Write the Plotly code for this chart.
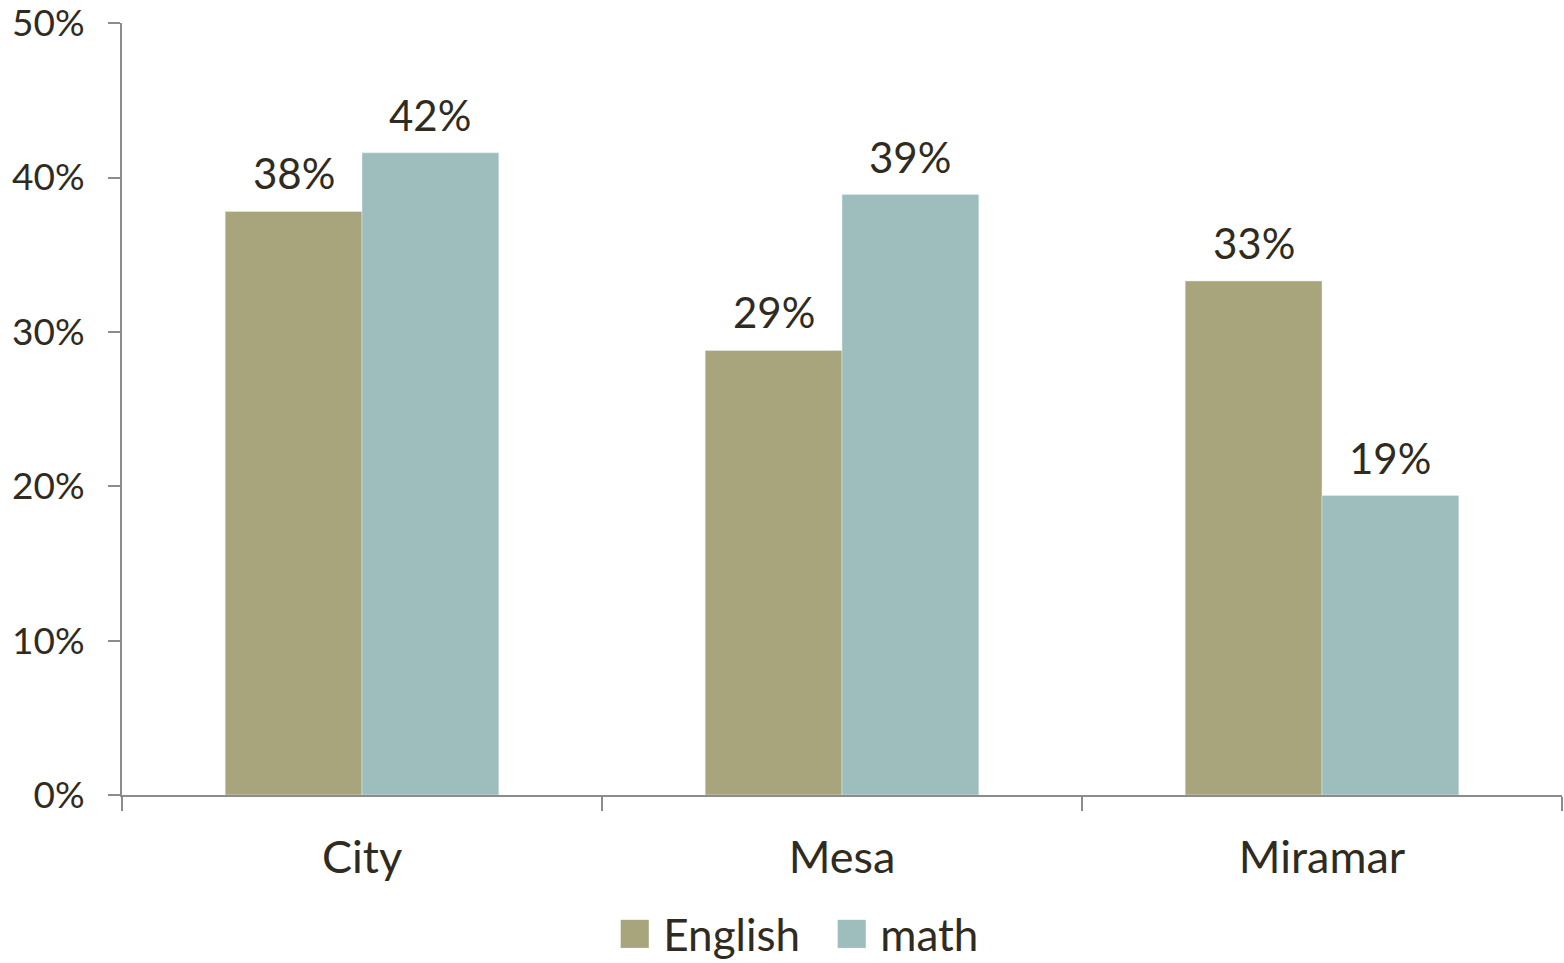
import plotly.graph_objects as go

categories = ["City", "Mesa", "Miramar"]
english = [0.378, 0.288, 0.333]
math_vals = [0.416, 0.389, 0.194]
y_ticks = [0, 0.1, 0.2, 0.3, 0.4, 0.5]
series_names = ["English", "math"]
series_colors = ["#A8A57C", "#9DBEBD"]

FONT = "Lato"
TXT = "#2F2B20"
AX = "#8C8C8C"

fig = go.Figure()
series = [english, math_vals]
for name, vals, col in zip(series_names, series, series_colors):
    fig.add_trace(go.Bar(name=name, x=categories, y=vals, marker_color=col,
                         showlegend=False))

# value labels anchored at data coordinates
offsets = [-68, 68]
for vals, dx in zip(series, offsets):
    for c, v in zip(categories, vals):
        fig.add_annotation(x=c, y=v, xref="x", yref="y", text=f"{round(v * 100)}%",
                           showarrow=False, xshift=dx, yshift=38, yanchor="middle",
                           font=dict(size=42, color=TXT, family=FONT))

# legend row
legend_text = "&nbsp;&nbsp;&nbsp;".join(
    f"<span style='color:{col};font-size:58px'>■</span>&nbsp;{name}"
    for name, col in zip(series_names, series_colors))
fig.add_annotation(x=0.4694, y=-0.185, xref="paper", yref="paper", text=legend_text,
                   showarrow=False, xanchor="center", yanchor="middle", yshift=9,
                   font=dict(size=44, color=TXT, family=FONT))

fig.update_layout(
    width=1564, height=963,
    barmode="group", bargap=0.43, bargroupgap=0,
    plot_bgcolor="white", paper_bgcolor="white",
    margin=dict(l=122, r=2, t=23, b=168),
    font=dict(family=FONT, color=TXT, size=36),
    showlegend=False,
    xaxis=dict(showline=True, linecolor=AX, linewidth=2, ticks="outside", tickson="boundaries",
               ticklen=14, tickcolor=AX, tickwidth=2, tickfont=dict(size=45, color=TXT),
               showgrid=False, automargin=False, ticklabelstandoff=22),
    yaxis=dict(range=[0, 0.5001], tickvals=y_ticks, tickformat=".0%", showline=True, linecolor=AX,
               linewidth=2, ticks="outside", ticklen=12, tickcolor=AX, tickwidth=2,
               showgrid=False, zeroline=False, tickfont=dict(size=37, color=TXT),
               automargin=False, ticklabelstandoff=16, ticklabeloverflow="allow"),
)

fig.write_html("out.html", config={"displayModeBar": False},
               post_script="document.body.style.margin='0';")
